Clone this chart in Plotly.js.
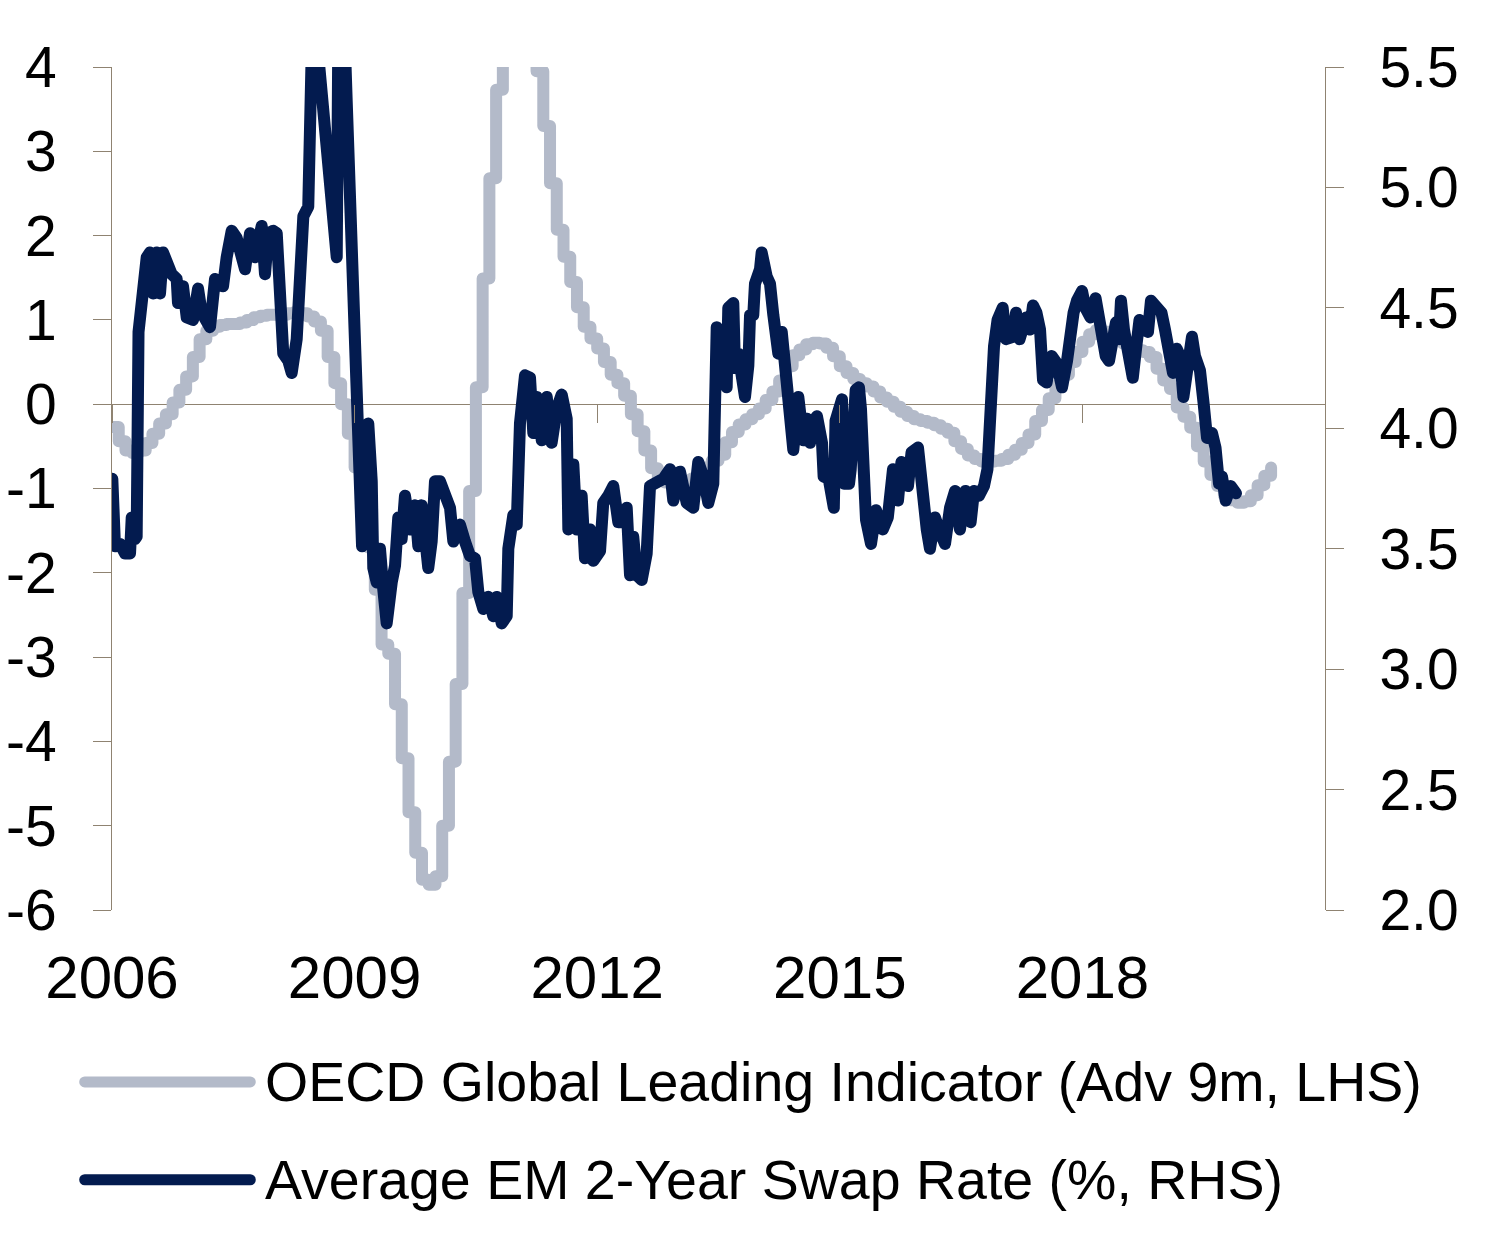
<!DOCTYPE html>
<html><head><meta charset="utf-8">
<script src="https://cdn.plot.ly/plotly-3.0.1.min.js"></script>
<style>
html,body{margin:0;padding:0;background:#fff;}
#chart{width:1506px;height:1235px;}
.js-line{stroke-linejoin:round !important;stroke-linecap:round !important;}
.shapelayer path{stroke-linecap:round !important;}
</style></head><body><div id="chart"></div>
<script>
// OECD Global Leading Indicator (advanced 9m), monthly from Jan 2006, LHS
const oecdStart = 2006;
const oecdValues = [
 -0.27,-0.44,-0.55,-0.58,-0.55,-0.46,-0.35,-0.23,-0.12,0.02,0.17,0.33,
 0.56,0.77,0.87,0.92,0.94,0.95,0.95,0.97,1.00,1.03,1.05,1.06,
 1.06,1.06,1.08,1.09,1.08,1.04,0.98,0.87,0.56,0.25,0.00,-0.35,
 -0.75,-1.20,-1.70,-2.20,-2.85,-2.96,-3.56,-4.20,-4.84,-5.32,-5.64,-5.70,
 -5.60,-5.00,-4.24,-3.32,-2.24,-1.03,0.20,1.49,2.68,3.73,4.40,4.90,
 5.10,4.90,4.40,3.95,3.30,2.62,2.07,1.75,1.45,1.15,0.92,0.78,
 0.66,0.50,0.35,0.25,0.10,-0.12,-0.32,-0.55,-0.76,-0.88,-0.93,-0.95,
 -0.95,-0.92,-0.88,-0.82,-0.75,-0.67,-0.60,-0.45,-0.33,-0.24,-0.18,-0.12,
 -0.05,0.05,0.15,0.28,0.45,0.58,0.65,0.71,0.73,0.72,0.67,0.57,
 0.45,0.37,0.30,0.25,0.21,0.15,0.08,0.03,-0.03,-0.09,-0.14,-0.18,
 -0.20,-0.22,-0.25,-0.29,-0.34,-0.44,-0.53,-0.61,-0.65,-0.68,-0.68,-0.67,
 -0.65,-0.60,-0.54,-0.46,-0.36,-0.20,-0.07,0.07,0.22,0.35,0.50,0.62,
 0.74,0.83,0.88,0.86,0.82,0.77,0.72,0.68,0.64,0.62,0.56,0.42,
 0.28,0.18,-0.04,-0.15,-0.28,-0.50,-0.68,-0.84,-0.97,-1.08,-1.14,-1.17,
 -1.15,-1.08,-0.96,-0.85,-0.75
];

// Average EM 2-year swap rate (%), RHS
const swapDates = [
 2006.004,2006.037,2006.099,2006.161,2006.223,2006.244,2006.284,2006.305,2006.328,2006.346,
 2006.383,2006.429,2006.470,2006.507,2006.553,2006.594,2006.631,2006.693,2006.738,2006.800,
 2006.816,2006.878,2006.924,2007.002,2007.064,2007.109,2007.212,2007.274,2007.373,2007.418,
 2007.480,2007.542,2007.645,2007.707,2007.768,2007.851,2007.892,2007.933,2007.995,2008.037,
 2008.078,2008.118,2008.180,2008.222,2008.284,2008.325,2008.366,2008.427,2008.448,2008.469,
 2008.523,2008.572,2008.613,2008.675,2008.696,2008.737,2008.779,2008.798,2008.869,2008.902,
 2008.943,2008.964,2009.005,2009.067,2009.092,2009.150,2009.169,2009.212,2009.231,2009.273,
 2009.314,2009.355,2009.397,2009.459,2009.500,2009.540,2009.582,2009.623,2009.644,2009.685,
 2009.747,2009.788,2009.830,2009.871,2009.911,2009.953,2009.994,2010.056,2010.118,2010.180,
 2010.221,2010.303,2010.365,2010.427,2010.489,2010.530,2010.592,2010.653,2010.715,2010.757,
 2010.819,2010.881,2010.901,2010.963,2011.005,2011.045,2011.107,2011.169,2011.210,2011.252,
 2011.293,2011.314,2011.376,2011.437,2011.499,2011.561,2011.623,2011.643,2011.705,2011.747,
 2011.808,2011.849,2011.911,2011.952,2012.035,2012.075,2012.137,2012.199,2012.261,2012.303,
 2012.365,2012.406,2012.446,2012.489,2012.550,2012.612,2012.653,2012.736,2012.817,2012.900,
 2012.941,2013.024,2013.107,2013.188,2013.250,2013.312,2013.374,2013.436,2013.478,2013.519,
 2013.559,2013.601,2013.621,2013.683,2013.704,2013.745,2013.807,2013.828,2013.869,2013.890,
 2013.930,2013.951,2014.013,2014.034,2014.096,2014.137,2014.178,2014.199,2014.240,2014.282,
 2014.343,2014.384,2014.425,2014.487,2014.549,2014.591,2014.632,2014.672,2014.718,2014.780,
 2014.800,2014.863,2014.926,2014.947,2015.027,2015.052,2015.114,2015.135,2015.197,2015.237,
 2015.262,2015.324,2015.386,2015.448,2015.532,2015.594,2015.658,2015.720,2015.762,2015.843,
 2015.887,2015.967,2016.012,2016.075,2016.115,2016.177,2016.239,2016.301,2016.363,2016.425,
 2016.486,2016.554,2016.618,2016.660,2016.721,2016.783,2016.826,2016.870,2016.907,2016.951,
 2017.014,2017.055,2017.142,2017.179,2017.223,2017.303,2017.352,2017.389,2017.432,2017.476,
 2017.513,2017.557,2017.620,2017.683,2017.748,2017.810,2017.847,2017.891,2017.933,2017.995,
 2018.038,2018.100,2018.163,2018.205,2018.242,2018.288,2018.329,2018.372,2018.415,2018.453,
 2018.477,2018.514,2018.576,2018.623,2018.663,2018.706,2018.749,2018.811,2018.848,2018.935,
 2018.978,2019.021,2019.059,2019.120,2019.166,2019.207,2019.249,2019.291,2019.355,2019.392,
 2019.454,2019.500,2019.541,2019.603,2019.646,2019.689,2019.726,2019.772,2019.834,2019.899
];
const swapRates = [
 3.79,3.51,3.52,3.48,3.48,3.63,3.54,3.55,4.40,4.46,
 4.56,4.71,4.73,4.56,4.73,4.56,4.73,4.67,4.64,4.62,
 4.52,4.59,4.46,4.45,4.58,4.48,4.42,4.62,4.59,4.71,
 4.82,4.79,4.66,4.81,4.71,4.84,4.64,4.81,4.82,4.81,
 4.46,4.31,4.28,4.23,4.37,4.64,4.88,4.92,5.33,5.55,
 5.65,5.47,5.33,5.22,5.06,4.89,4.71,5.60,5.70,5.36,
 4.88,4.64,4.24,3.75,3.51,3.78,4.02,3.78,3.42,3.36,
 3.50,3.33,3.19,3.36,3.43,3.63,3.54,3.72,3.64,3.58,
 3.68,3.51,3.68,3.57,3.42,3.53,3.78,3.78,3.71,3.67,
 3.53,3.60,3.53,3.47,3.46,3.32,3.25,3.30,3.22,3.30,
 3.19,3.22,3.50,3.64,3.60,4.02,4.22,4.21,3.98,4.13,
 4.07,3.95,4.13,3.94,4.08,4.14,4.04,3.58,3.85,3.58,
 3.72,3.46,3.58,3.45,3.49,3.69,3.72,3.76,3.61,3.61,
 3.67,3.39,3.55,3.39,3.37,3.48,3.76,3.77,3.79,3.83,
 3.70,3.82,3.69,3.67,3.86,3.80,3.69,3.77,4.42,4.19,
 4.35,4.17,4.50,4.52,4.25,4.31,4.14,4.13,4.26,4.47,
 4.47,4.60,4.66,4.73,4.63,4.60,4.47,4.35,4.31,4.40,
 4.13,4.06,3.91,4.13,3.95,4.04,3.94,4.03,4.05,3.94,
 3.80,3.79,3.67,4.03,4.12,3.77,3.77,3.83,4.16,4.17,
 4.08,3.62,3.52,3.66,3.58,3.63,3.83,3.70,3.86,3.76,
 3.90,3.92,3.72,3.58,3.50,3.63,3.57,3.52,3.67,3.74,
 3.58,3.74,3.61,3.74,3.72,3.76,3.83,4.25,4.34,4.45,
 4.50,4.37,4.38,4.48,4.37,4.46,4.41,4.51,4.48,4.41,
 4.20,4.19,4.30,4.27,4.17,4.28,4.44,4.48,4.53,4.57,
 4.50,4.46,4.54,4.45,4.41,4.30,4.28,4.41,4.44,4.37,
 4.53,4.41,4.31,4.21,4.33,4.45,4.41,4.40,4.53,4.50,
 4.48,4.41,4.30,4.23,4.33,4.30,4.13,4.27,4.38,4.30,
 4.24,4.10,3.96,3.98,3.92,3.77,3.80,3.70,3.76,3.73
];

const yearTicks = [2006, 2009, 2012, 2015, 2018];
const yearLabels = ['2006', '2009', '2012', '2015', '2018'];
const lhsTicks = [-6, -5, -4, -3, -2, -1, 0, 1, 2, 3, 4];
const lhsLabels = ['-6', '-5', '-4', '-3', '-2', '-1', '0', '1', '2', '3', '4'];
const rhsTicks = [2.0, 2.5, 3.0, 3.5, 4.0, 4.5, 5.0, 5.5];
const rhsLabels = ['2.0', '2.5', '3.0', '3.5', '4.0', '4.5', '5.0', '5.5'];
const seriesNames = ['OECD Global Leading Indicator (Adv 9m, LHS)', 'Average EM 2-Year Swap Rate (%, RHS)'];

const GREY = '#b3bac9', NAVY = '#031b4f', AXIS = '#8f8371';
const FAMILY = 'Liberation Sans, Arial, sans-serif';
const FONT = {family: FAMILY, size: 57, color: '#000'};
const XFONT = {family: FAMILY, size: 60, color: '#000'};
const LFONT = {family: FAMILY, size: 55.5, color: '#000'};

const traces = [
  {x0: oecdStart, dx: 1/12, y: oecdValues, type: 'scatter', mode: 'lines', line: {color: GREY, width: 12, shape: 'hv'},
   xaxis: 'x', yaxis: 'y', name: seriesNames[0], hoverinfo: 'skip'},
  {x: swapDates, y: swapRates, type: 'scatter', mode: 'lines', line: {color: NAVY, width: 12},
   xaxis: 'x2', yaxis: 'y2', name: seriesNames[1], hoverinfo: 'skip'}
];

// legend drawn with paper-relative shapes and annotations
const legendRows = [-0.204, -0.320];
const shapes = [0, 1].map(i => ({type: 'line', xref: 'paper', yref: 'paper', x0: -0.0225, x1: 0.114,
  y0: legendRows[i], y1: legendRows[i], line: {color: i ? NAVY : GREY, width: 11}}));
const annotations = [0, 1].map(i => ({xref: 'paper', yref: 'paper', x: 0.1245, y: legendRows[i],
  xanchor: 'left', yanchor: 'middle', showarrow: false, text: seriesNames[i], font: LFONT}));

const layout = {
  width: 1506, height: 1235, paper_bgcolor: '#fff', plot_bgcolor: '#fff',
  margin: {l: 112, r: 181, t: 67, b: 325}, showlegend: false, font: FONT,
  xaxis: {range: [2006, 2021], tickvals: yearTicks, ticktext: yearLabels, showline: false, ticks: '',
    showgrid: false, zeroline: false, tickfont: XFONT, ticklabelstandoff: 27, fixedrange: true},
  xaxis2: {range: [2006, 2021], overlaying: 'x', anchor: 'free', position: 0.6, tickvals: [2006, 2009, 2012, 2015, 2018, 2021],
    showticklabels: false, ticks: 'outside', ticklen: 18, tickcolor: AXIS, tickwidth: 1, showline: false,
    showgrid: false, zeroline: false},
  yaxis: {range: [-6, 4], tickvals: lhsTicks, ticktext: lhsLabels, showline: true, linecolor: AXIS, linewidth: 1,
    ticks: 'outside', ticklen: 18, tickcolor: AXIS, tickwidth: 1, showgrid: false, zeroline: true,
    zerolinecolor: AXIS, zerolinewidth: 1, tickfont: FONT, ticklabelstandoff: 25},
  yaxis2: {range: [2.0, 5.5], overlaying: 'y', side: 'right', anchor: 'x2', tickvals: rhsTicks, ticktext: rhsLabels,
    showline: true, linecolor: AXIS, linewidth: 1, ticks: 'outside', ticklen: 18, tickcolor: AXIS, tickwidth: 1,
    showgrid: false, zeroline: false, tickfont: FONT, ticklabelstandoff: 24},
  shapes: shapes, annotations: annotations
};

Plotly.newPlot('chart', traces, layout, {displayModeBar: false, staticPlot: true});
</script></body></html>
